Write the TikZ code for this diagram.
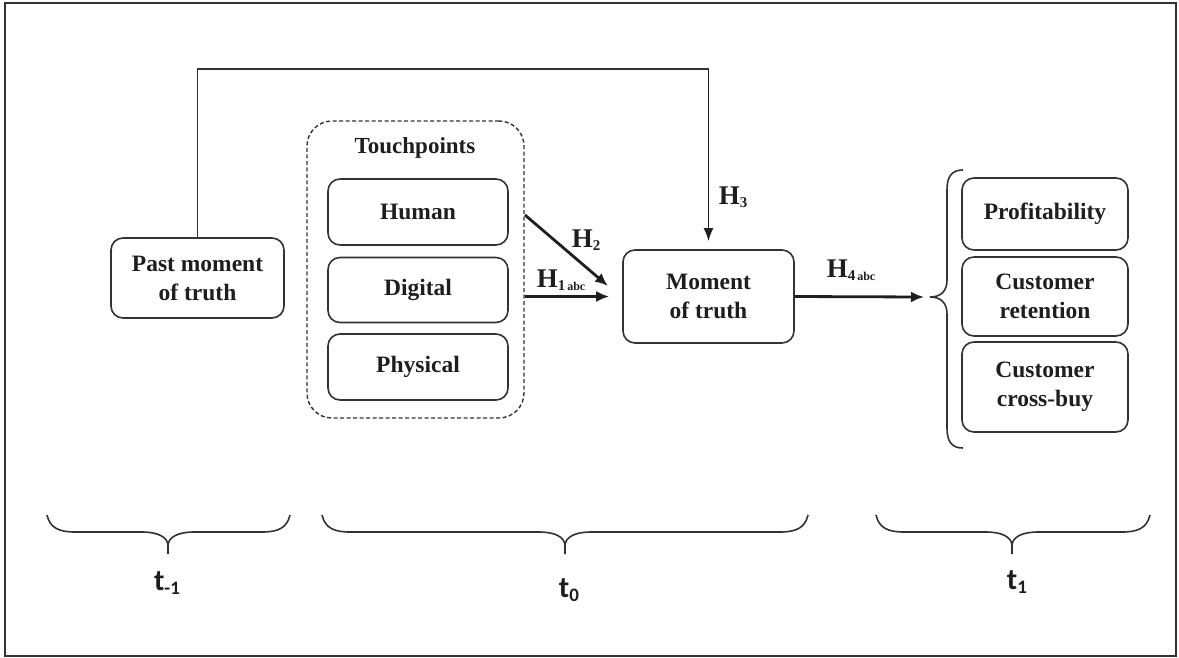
\documentclass[tikz,border=0pt]{standalone}
\usepackage{fontspec}
\setmainfont{Liberation Serif}
\newfontfamily\tfont{Carlito}
\usetikzlibrary{arrows.meta}
\definecolor{lc}{HTML}{333333}
\definecolor{tc}{HTML}{1E1E1E}
\newcommand\mybrace[3]{%
  \draw[brc] (#1,515) .. controls ({#1+3},528) and ({#1+12},532) .. ({#1+28},532)
    -- ({#3-26},532) .. controls ({#3-10},532) and (#3,537) .. (#3,546) -- (#3,554);
  \draw[brc] (#2,515) .. controls ({#2-3},528) and ({#2-12},532) .. ({#2-28},532)
    -- ({#3+26},532) .. controls ({#3+10},532) and (#3,537) .. (#3,546);}
\newcommand\Hl[2]{H\raisebox{-3pt}{\fontsize{15}{15}\selectfont #1}\raisebox{-3pt}{\fontsize{12}{12}\selectfont #2}}
\begin{document}
\begin{tikzpicture}[x=1pt,y=-1pt,
  box/.style={draw=lc, line width=1.6pt, rounded corners=12pt, align=center,
    text=tc, font=\fontsize{23.5}{29}\selectfont\bfseries, inner sep=0pt},
  conn/.style={draw=lc, line width=1.6pt},
  arr/.style={draw=tc, line width=2.8pt, -{Latex[length=13pt,width=11pt]}},
  arrthin/.style={draw=tc, line width=1.8pt, -{Latex[length=13pt,width=10pt]}},
  hlab/.style={text=tc, font=\fontsize{27}{30}\selectfont\bfseries, inner sep=0pt},
  tlab/.style={text=tc, font=\tfont\fontsize{30}{32}\selectfont\bfseries, inner sep=0pt},
  brc/.style={draw=lc, line width=1.6pt}]
\useasboundingbox (0,0) rectangle (1179,657);
\draw[line width=1.5pt, draw=lc] (5,3) rectangle (1176,656);

% dashed group
\node[draw=lc, line width=1.4pt, dash pattern=on 4pt off 2.5pt, rounded corners=25pt,
  minimum width=217pt, minimum height=297pt, inner sep=0pt] (tp) at (415.5,269.5) {};
\node[text=tc, font=\fontsize{23}{26}\selectfont\bfseries] (tpl) at (415,148) {Touchpoints};

\node[box, minimum width=173pt, minimum height=80pt] (past) at (197.5,278) {Past moment\\of truth};
\node[box, minimum width=180pt, minimum height=66pt] (human) at (418,212) {Human};
\node[box, minimum width=180pt, minimum height=65pt] (digital) at (418,290) {Digital};
\node[box, minimum width=180pt, minimum height=66pt] (physical) at (418,367) {Physical};
\node[box, minimum width=171pt, minimum height=93pt] (mot) at (708.5,296.5) {Moment\\of truth};
\node[box, minimum width=166pt, minimum height=72pt] (prof) at (1045,214) {Profitability};
\node[box, minimum width=166pt, minimum height=79pt] (ret) at (1045,296.5) {Customer\\retention};
\node[box, minimum width=166pt, minimum height=90pt] (cross) at (1045,387) {Customer\\cross-buy};

% connectors
\coordinate (topL) at (197.5,69);
\coordinate (topR) at (708.5,69);
\draw[conn] (past.north) -- (topL) -- (topR);
\draw[arrthin] (topR) -- ([yshift=8pt]mot.north);
\coordinate (h2s) at (525,215);
\coordinate (h2e) at (608,286);
\draw[arr] (h2s) -- (h2e);
\draw[arr] (tp.east |- mot.west) -- ([xshift=-13pt]mot.west);
\coordinate (btip) at (930,297);
\draw[arr] (mot.east) -- ([xshift=-6pt]btip);

% right brace
\draw[brc] (963,170) .. controls (952,170) and (947,176) .. (947,190) -- (947,280)
  .. controls (947,291) and (941,297) .. (btip);
\draw[brc] (963,448) .. controls (952,448) and (947,442) .. (947,428) -- (947,314)
  .. controls (947,303) and (941,297) .. (btip);

% labels
\node[hlab] (h3) at (733,197) {\Hl{3}{}};
\node[hlab] (h2) at (586,240) {\Hl{2}{}};
\node[hlab] (h1) at (561,280) {\Hl{1}{\,abc}};
\node[hlab] (h4) at (851,270) {\Hl{4}{\,abc}};

% bottom braces
\mybrace{47}{290}{168}
\mybrace{322}{808}{565}
\mybrace{876}{1150}{1012}
\node[tlab] (t1m) at (167,583) {t\raisebox{-4pt}{\fontsize{19}{19}\selectfont -1}};
\node[tlab] (t0) at (569,590) {t\raisebox{-4pt}{\fontsize{19}{19}\selectfont 0}};
\node[tlab] (t1) at (1017,582) {t\raisebox{-4pt}{\fontsize{19}{19}\selectfont 1}};
\end{tikzpicture}
\end{document}
